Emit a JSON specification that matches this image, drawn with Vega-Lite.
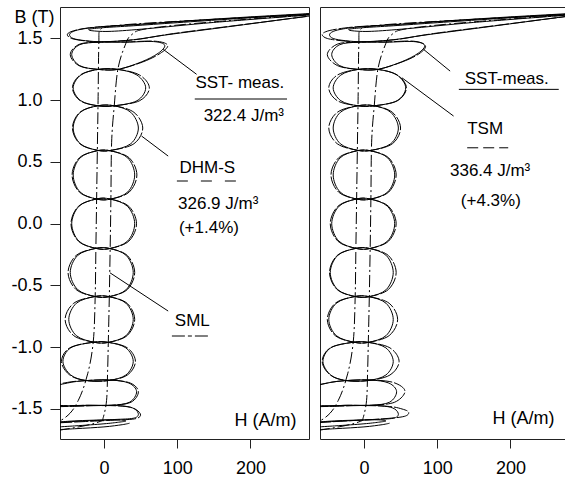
{
"$schema": "https://vega.github.io/schema/vega-lite/v6.json",
"background": "white",
"padding": {"left": 10, "top": 6, "right": 0, "bottom": 0},
"spacing": 9,
"config": {
 "font": "Liberation Sans",
 "view": {"stroke": "#222", "strokeWidth": 1},
 "axis": {"grid": false, "domain": false, "labelFontSize": 18, "labelColor": "black", "tickColor": "#222", "labelFont": "Liberation Sans", "titleFont": "Liberation Sans", "titleColor": "black"},
 "text": {"font": "Liberation Sans", "fontSize": 17, "color": "black"}
},
"datasets": {
 "mc": [
  {"c":"M1","h":9.5,"b":0.2},{"c":"M1","h":32.5,"b":0.257},{"c":"M1","h":42,"b":0.395},{"c":"M1","h":32.5,"b":0.533},{"c":"M1","h":9.5,"b":0.59},{"c":"M1","h":-10,"b":0.59},{"c":"M1","h":-32.6,"b":0.533},{"c":"M1","h":-42,"b":0.395},{"c":"M1","h":-32.6,"b":0.257},{"c":"M1","h":-10,"b":0.2},
  {"c":"M2","h":8.5,"b":-0.2},{"c":"M2","h":32.2,"b":-0.141},{"c":"M2","h":42,"b":0},{"c":"M2","h":32.2,"b":0.141},{"c":"M2","h":8.5,"b":0.2},{"c":"M2","h":-10.5,"b":0.2},{"c":"M2","h":-34.2,"b":0.141},{"c":"M2","h":-44,"b":0},{"c":"M2","h":-34.2,"b":-0.141},{"c":"M2","h":-10.5,"b":-0.2},
  {"c":"M3","h":7.5,"b":-0.59},{"c":"M3","h":30.5,"b":-0.533},{"c":"M3","h":40,"b":-0.395},{"c":"M3","h":30.5,"b":-0.257},{"c":"M3","h":7.5,"b":-0.2},{"c":"M3","h":-11.5,"b":-0.2},{"c":"M3","h":-35.9,"b":-0.257},{"c":"M3","h":-46,"b":-0.395},{"c":"M3","h":-35.9,"b":-0.533},{"c":"M3","h":-11.5,"b":-0.59},
  {"c":"M4","h":6.5,"b":-0.96},{"c":"M4","h":30.2,"b":-0.906},{"c":"M4","h":40,"b":-0.775},{"c":"M4","h":30.2,"b":-0.644},{"c":"M4","h":6.5,"b":-0.59},{"c":"M4","h":-13,"b":-0.59},{"c":"M4","h":-37.7,"b":-0.644},{"c":"M4","h":-48,"b":-0.775},{"c":"M4","h":-37.7,"b":-0.906},{"c":"M4","h":-13,"b":-0.96},
  {"c":"M5","h":5.5,"b":-1.27},{"c":"M5","h":29.9,"b":-1.225},{"c":"M5","h":40,"b":-1.115},{"c":"M5","h":29.9,"b":-1.005},{"c":"M5","h":5.5,"b":-0.96},{"c":"M5","h":-15,"b":-0.96},{"c":"M5","h":-45.3,"b":-1.005},{"c":"M5","h":-56,"b":-1.115},{"c":"M5","h":-45.3,"b":-1.225},{"c":"M5","h":-24,"b":-1.27},
  {"c":"M6","h":10,"b":-1.47},{"c":"M6","h":35,"b":-1.445},{"c":"M6","h":44.6,"b":-1.36},{"c":"M6","h":34,"b":-1.29},{"c":"M6","h":8,"b":-1.265},{"c":"M6","h":-24,"b":-1.27},{"c":"M6","h":-50,"b":-1.29},{"c":"M6","h":-75,"b":-1.34},{"c":"M6","h":-70,"b":-1.465},{"c":"M6","h":-20,"b":-1.47},
  {"c":"M7","h":19,"b":1.25},{"c":"M7","h":51,"b":1.31},{"c":"M7","h":74,"b":1.38},{"c":"M7","h":83,"b":1.445},{"c":"M7","h":68,"b":1.475},{"c":"M7","h":30,"b":1.47},{"c":"M7","h":-7,"b":1.47},{"c":"M7","h":-33,"b":1.45},{"c":"M7","h":-44,"b":1.37},{"c":"M7","h":-33,"b":1.28},{"c":"M7","h":-8,"b":1.25},
  {"c":"M8","h":14,"b":0.955},{"c":"M8","h":45.1,"b":0.996},{"c":"M8","h":57,"b":1.1},{"c":"M8","h":45.1,"b":1.204},{"c":"M8","h":19,"b":1.25},{"c":"M8","h":-7.5,"b":1.25},{"c":"M8","h":-31.5,"b":1.204},{"c":"M8","h":-42,"b":1.1},{"c":"M8","h":-31.5,"b":0.996},{"c":"M8","h":-8,"b":0.955},
  {"c":"M9","h":10.5,"b":0.595},{"c":"M9","h":36.7,"b":0.648},{"c":"M9","h":47,"b":0.775},{"c":"M9","h":36.7,"b":0.902},{"c":"M9","h":14,"b":0.955},{"c":"M9","h":-8.5,"b":0.955},{"c":"M9","h":-32.3,"b":0.902},{"c":"M9","h":-42,"b":0.775},{"c":"M9","h":-32.3,"b":0.648},{"c":"M9","h":-9,"b":0.595}
 ],
 "ma": [
  {"c":"A1","h":9.5,"b":0.2},{"c":"A1","h":34.6,"b":0.257},{"c":"A1","h":45,"b":0.395},{"c":"A1","h":34.6,"b":0.533},{"c":"A1","h":9.5,"b":0.59},{"c":"A1","h":-10,"b":0.59},{"c":"A1","h":-33.7,"b":0.533},{"c":"A1","h":-43.5,"b":0.395},{"c":"A1","h":-33.7,"b":0.257},{"c":"A1","h":-10,"b":0.2},
  {"c":"A2","h":8.5,"b":-0.2},{"c":"A2","h":34,"b":-0.141},{"c":"A2","h":44.5,"b":0},{"c":"A2","h":34,"b":0.141},{"c":"A2","h":8.5,"b":0.2},{"c":"A2","h":-10.5,"b":0.2},{"c":"A2","h":-34.9,"b":0.141},{"c":"A2","h":-45,"b":0},{"c":"A2","h":-34.9,"b":-0.141},{"c":"A2","h":-10.5,"b":-0.2},
  {"c":"A3","h":7.5,"b":-0.59},{"c":"A3","h":31.9,"b":-0.533},{"c":"A3","h":42,"b":-0.395},{"c":"A3","h":31.9,"b":-0.257},{"c":"A3","h":7.5,"b":-0.2},{"c":"A3","h":-11.5,"b":-0.2},{"c":"A3","h":-38,"b":-0.257},{"c":"A3","h":-49,"b":-0.395},{"c":"A3","h":-38,"b":-0.533},{"c":"A3","h":-11.5,"b":-0.59},
  {"c":"A4","h":6.5,"b":-0.96},{"c":"A4","h":31.6,"b":-0.906},{"c":"A4","h":42,"b":-0.775},{"c":"A4","h":31.6,"b":-0.644},{"c":"A4","h":6.5,"b":-0.59},{"c":"A4","h":-13,"b":-0.59},{"c":"A4","h":-41.3,"b":-0.644},{"c":"A4","h":-53,"b":-0.775},{"c":"A4","h":-41.3,"b":-0.906},{"c":"A4","h":-13,"b":-0.96},
  {"c":"A5","h":5.5,"b":-1.27},{"c":"A5","h":32,"b":-1.225},{"c":"A5","h":43,"b":-1.115},{"c":"A5","h":32,"b":-1.005},{"c":"A5","h":5.5,"b":-0.96},{"c":"A5","h":-15,"b":-0.96},{"c":"A5","h":-46.7,"b":-1.005},{"c":"A5","h":-58,"b":-1.115},{"c":"A5","h":-46.7,"b":-1.225},{"c":"A5","h":-24,"b":-1.27},
  {"c":"A6","h":10,"b":-1.47},{"c":"A6","h":37,"b":-1.445},{"c":"A6","h":47,"b":-1.36},{"c":"A6","h":36,"b":-1.29},{"c":"A6","h":8,"b":-1.265},{"c":"A6","h":-24,"b":-1.27},{"c":"A6","h":-50,"b":-1.285},{"c":"A6","h":-75,"b":-1.33},{"c":"A6","h":-70,"b":-1.46},{"c":"A6","h":-20,"b":-1.47},
  {"c":"A7","h":19,"b":1.25},{"c":"A7","h":53,"b":1.31},{"c":"A7","h":77,"b":1.38},{"c":"A7","h":87,"b":1.445},{"c":"A7","h":70,"b":1.478},{"c":"A7","h":30,"b":1.472},{"c":"A7","h":-7,"b":1.47},{"c":"A7","h":-34,"b":1.452},{"c":"A7","h":-46,"b":1.37},{"c":"A7","h":-34,"b":1.28},{"c":"A7","h":-8,"b":1.25},
  {"c":"A8","h":14,"b":0.955},{"c":"A8","h":48.7,"b":0.996},{"c":"A8","h":62,"b":1.1},{"c":"A8","h":48.7,"b":1.204},{"c":"A8","h":19,"b":1.25},{"c":"A8","h":-7.5,"b":1.25},{"c":"A8","h":-32.5,"b":1.204},{"c":"A8","h":-43,"b":1.1},{"c":"A8","h":-32.5,"b":0.996},{"c":"A8","h":-8,"b":0.955},
  {"c":"A9","h":10.5,"b":0.595},{"c":"A9","h":41,"b":0.648},{"c":"A9","h":53,"b":0.775},{"c":"A9","h":41,"b":0.902},{"c":"A9","h":14,"b":0.955},{"c":"A9","h":-8.5,"b":0.955},{"c":"A9","h":-33,"b":0.902},{"c":"A9","h":-43,"b":0.775},{"c":"A9","h":-33,"b":0.648},{"c":"A9","h":-9,"b":0.595}
 ],
 "mb": [
  {"c":"B1","h":9.5,"b":0.2},{"c":"B1","h":33.9,"b":0.257},{"c":"B1","h":44,"b":0.395},{"c":"B1","h":33.9,"b":0.533},{"c":"B1","h":9.5,"b":0.59},{"c":"B1","h":-10,"b":0.59},{"c":"B1","h":-34.7,"b":0.533},{"c":"B1","h":-45,"b":0.395},{"c":"B1","h":-34.7,"b":0.257},{"c":"B1","h":-10,"b":0.2},
  {"c":"B2","h":8.5,"b":-0.2},{"c":"B2","h":33.6,"b":-0.141},{"c":"B2","h":44,"b":0},{"c":"B2","h":33.6,"b":0.141},{"c":"B2","h":8.5,"b":0.2},{"c":"B2","h":-10.5,"b":0.2},{"c":"B2","h":-35.6,"b":0.141},{"c":"B2","h":-46,"b":0},{"c":"B2","h":-35.6,"b":-0.141},{"c":"B2","h":-10.5,"b":-0.2},
  {"c":"B3","h":7.5,"b":-0.59},{"c":"B3","h":33.3,"b":-0.533},{"c":"B3","h":44,"b":-0.395},{"c":"B3","h":33.3,"b":-0.257},{"c":"B3","h":7.5,"b":-0.2},{"c":"B3","h":-11.5,"b":-0.2},{"c":"B3","h":-36.6,"b":-0.257},{"c":"B3","h":-47,"b":-0.395},{"c":"B3","h":-36.6,"b":-0.533},{"c":"B3","h":-11.5,"b":-0.59},
  {"c":"B4","h":6.5,"b":-0.96},{"c":"B4","h":34.4,"b":-0.906},{"c":"B4","h":46,"b":-0.775},{"c":"B4","h":34.4,"b":-0.644},{"c":"B4","h":6.5,"b":-0.59},{"c":"B4","h":-13,"b":-0.59},{"c":"B4","h":-39.2,"b":-0.644},{"c":"B4","h":-50,"b":-0.775},{"c":"B4","h":-39.2,"b":-0.906},{"c":"B4","h":-13,"b":-0.96},
  {"c":"B5","h":5.5,"b":-1.27},{"c":"B5","h":35.5,"b":-1.225},{"c":"B5","h":48,"b":-1.115},{"c":"B5","h":35.5,"b":-1.005},{"c":"B5","h":5.5,"b":-0.96},{"c":"B5","h":-15,"b":-0.96},{"c":"B5","h":-46,"b":-1.005},{"c":"B5","h":-57,"b":-1.115},{"c":"B5","h":-46,"b":-1.225},{"c":"B5","h":-24,"b":-1.27},
  {"c":"B6","h":10,"b":-1.47},{"c":"B6","h":42,"b":-1.445},{"c":"B6","h":56,"b":-1.355},{"c":"B6","h":40,"b":-1.285},{"c":"B6","h":8,"b":-1.265},{"c":"B6","h":-24,"b":-1.27},{"c":"B6","h":-50,"b":-1.29},{"c":"B6","h":-75,"b":-1.34},{"c":"B6","h":-70,"b":-1.465},{"c":"B6","h":-20,"b":-1.47},
  {"c":"B7","h":19,"b":1.25},{"c":"B7","h":52,"b":1.31},{"c":"B7","h":75,"b":1.375},{"c":"B7","h":84,"b":1.44},{"c":"B7","h":68,"b":1.478},{"c":"B7","h":30,"b":1.472},{"c":"B7","h":-7,"b":1.47},{"c":"B7","h":-36,"b":1.455},{"c":"B7","h":-50,"b":1.37},{"c":"B7","h":-36,"b":1.28},{"c":"B7","h":-8,"b":1.25},
  {"c":"B8","h":14,"b":0.955},{"c":"B8","h":45.8,"b":0.996},{"c":"B8","h":58,"b":1.1},{"c":"B8","h":45.8,"b":1.204},{"c":"B8","h":19,"b":1.25},{"c":"B8","h":-7.5,"b":1.25},{"c":"B8","h":-36.3,"b":1.204},{"c":"B8","h":-48,"b":1.1},{"c":"B8","h":-36.3,"b":0.996},{"c":"B8","h":-8,"b":0.955},
  {"c":"B9","h":10.5,"b":0.595},{"c":"B9","h":38.9,"b":0.648},{"c":"B9","h":50,"b":0.775},{"c":"B9","h":38.9,"b":0.902},{"c":"B9","h":14,"b":0.955},{"c":"B9","h":-8.5,"b":0.955},{"c":"B9","h":-36.5,"b":0.902},{"c":"B9","h":-48,"b":0.775},{"c":"B9","h":-36.5,"b":0.648},{"c":"B9","h":-9,"b":0.595}
 ],
 "mo": [
  {"c":"T1","h":290,"b":1.705},{"c":"T1","h":200,"b":1.675},{"c":"T1","h":120,"b":1.645},{"c":"T1","h":50,"b":1.615},{"c":"T1","h":0,"b":1.597},{"c":"T1","h":-28,"b":1.578},{"c":"T1","h":-42,"b":1.557},{"c":"T1","h":-47,"b":1.53},{"c":"T1","h":-42,"b":1.5},{"c":"T1","h":-25,"b":1.482},{"c":"T1","h":0,"b":1.474},{"c":"T1","h":40,"b":1.49},{"c":"T1","h":86,"b":1.53},{"c":"T1","h":176,"b":1.6},{"c":"T1","h":290,"b":1.69},
  {"c":"T2","h":290,"b":1.7},{"c":"T2","h":180,"b":1.66},{"c":"T2","h":100,"b":1.628},{"c":"T2","h":40,"b":1.603},{"c":"T2","h":0,"b":1.588},{"c":"T2","h":-20,"b":1.575},{"c":"T2","h":-15,"b":1.562},{"c":"T2","h":10,"b":1.558},{"c":"T2","h":60,"b":1.58},{"c":"T2","h":150,"b":1.63},{"c":"T2","h":290,"b":1.695},
  {"c":"X1","h":-90,"b":-1.48},{"c":"X1","h":-40,"b":-1.475},{"c":"X1","h":0,"b":-1.47},{"c":"X1","h":28,"b":-1.477},{"c":"X1","h":42,"b":-1.5},{"c":"X1","h":47,"b":-1.545},{"c":"X1","h":40,"b":-1.575},{"c":"X1","h":15,"b":-1.585},{"c":"X1","h":-20,"b":-1.595},{"c":"X1","h":-90,"b":-1.615},
  {"c":"X2","h":-90,"b":-1.655},{"c":"X2","h":-40,"b":-1.637},{"c":"X2","h":0,"b":-1.62},{"c":"X2","h":20,"b":-1.607},{"c":"X2","h":30,"b":-1.597},{"c":"X2","h":20,"b":-1.588},{"c":"X2","h":-10,"b":-1.59},{"c":"X2","h":-50,"b":-1.6},{"c":"X2","h":-90,"b":-1.625},
  {"c":"X3","h":-90,"b":-1.675},{"c":"X3","h":-40,"b":-1.66},{"c":"X3","h":0,"b":-1.645},{"c":"X3","h":25,"b":-1.627},{"c":"X3","h":35,"b":-1.615}
 ],
 "ao": [
  {"c":"TA","h":290,"b":1.7},{"c":"TA","h":190,"b":1.668},{"c":"TA","h":110,"b":1.64},{"c":"TA","h":40,"b":1.612},{"c":"TA","h":-5,"b":1.595},{"c":"TA","h":-30,"b":1.578},{"c":"TA","h":-45,"b":1.555},{"c":"TA","h":-50,"b":1.53},{"c":"TA","h":-44,"b":1.5},{"c":"TA","h":-25,"b":1.48},{"c":"TA","h":0,"b":1.472},{"c":"TA","h":45,"b":1.492},{"c":"TA","h":95,"b":1.54},{"c":"TA","h":180,"b":1.605},{"c":"TA","h":290,"b":1.688},
  {"c":"XA","h":-90,"b":-1.485},{"c":"XA","h":-40,"b":-1.478},{"c":"XA","h":0,"b":-1.472},{"c":"XA","h":30,"b":-1.48},{"c":"XA","h":44,"b":-1.505},{"c":"XA","h":50,"b":-1.55},{"c":"XA","h":42,"b":-1.58},{"c":"XA","h":15,"b":-1.59},{"c":"XA","h":-20,"b":-1.6},{"c":"XA","h":-90,"b":-1.62}
 ],
 "bo": [
  {"c":"TB","h":290,"b":1.7},{"c":"TB","h":190,"b":1.668},{"c":"TB","h":110,"b":1.64},{"c":"TB","h":40,"b":1.612},{"c":"TB","h":-10,"b":1.595},{"c":"TB","h":-38,"b":1.575},{"c":"TB","h":-52,"b":1.555},{"c":"TB","h":-57,"b":1.53},{"c":"TB","h":-50,"b":1.5},{"c":"TB","h":-28,"b":1.48},{"c":"TB","h":0,"b":1.472},{"c":"TB","h":45,"b":1.492},{"c":"TB","h":95,"b":1.54},{"c":"TB","h":180,"b":1.605},{"c":"TB","h":290,"b":1.688},
  {"c":"XB","h":-90,"b":-1.485},{"c":"XB","h":-40,"b":-1.478},{"c":"XB","h":0,"b":-1.472},{"c":"XB","h":35,"b":-1.48},{"c":"XB","h":52,"b":-1.5},{"c":"XB","h":61,"b":-1.525},{"c":"XB","h":55,"b":-1.56},{"c":"XB","h":25,"b":-1.58},{"c":"XB","h":-20,"b":-1.595},{"c":"XB","h":-90,"b":-1.62}
 ],
 "sml": [
  {"c":"S1","h":290,"b":1.7},{"c":"S1","h":150,"b":1.655},{"c":"S1","h":60,"b":1.625},{"c":"S1","h":10,"b":1.6},{"c":"S1","h":-5,"b":1.57},{"c":"S1","h":-7,"b":1.45},{"c":"S1","h":-8,"b":1.0},{"c":"S1","h":-9,"b":0.6},{"c":"S1","h":-10,"b":0.2},{"c":"S1","h":-11,"b":-0.2},{"c":"S1","h":-12,"b":-0.6},{"c":"S1","h":-14.5,"b":-0.95},{"c":"S1","h":-22,"b":-1.21},{"c":"S1","h":-35,"b":-1.43},{"c":"S1","h":-53,"b":-1.57},{"c":"S1","h":-90,"b":-1.68},
  {"c":"S2","h":-90,"b":-1.7},{"c":"S2","h":-30,"b":-1.64},{"c":"S2","h":-5,"b":-1.6},{"c":"S2","h":-1,"b":-1.57},{"c":"S2","h":3.6,"b":-1.43},{"c":"S2","h":5,"b":-1.2},{"c":"S2","h":6,"b":-0.95},{"c":"S2","h":7.3,"b":-0.6},{"c":"S2","h":8.5,"b":-0.2},{"c":"S2","h":9.5,"b":0.2},{"c":"S2","h":10.5,"b":0.66},{"c":"S2","h":14,"b":0.95},{"c":"S2","h":19,"b":1.25},{"c":"S2","h":28.6,"b":1.44},{"c":"S2","h":37.7,"b":1.53},{"c":"S2","h":60,"b":1.58},{"c":"S2","h":150,"b":1.635},{"c":"S2","h":290,"b":1.695}
 ],
 "tx": [
  {"p":"a","t":"SST- meas.","h":185.5,"b":1.139},
  {"p":"a","t":"322.4 J/m³","h":191,"b":0.872},
  {"p":"a","t":"DHM-S","h":141.2,"b":0.453},
  {"p":"a","t":"326.9 J/m³","h":156,"b":0.157},
  {"p":"a","t":"(+1.4%)","h":143.4,"b":-0.032},
  {"p":"a","t":"SML","h":120.7,"b":-0.788},
  {"p":"a","t":"H (A/m)","h":220.7,"b":-1.598},
  {"p":"b","t":"SST-meas.","h":195,"b":1.169},
  {"p":"b","t":"TSM","h":165.5,"b":0.764},
  {"p":"b","t":"336.4 J/m³","h":172.3,"b":0.427},
  {"p":"b","t":"(+4.3%)","h":173.3,"b":0.184},
  {"p":"b","t":"H (A/m)","h":217.9,"b":-1.584}
 ],
 "ld": [
  {"p":"a","h":81,"b":1.412,"h2":126.5,"b2":1.21},
  {"p":"a","h":51.4,"b":0.71,"h2":87.7,"b2":0.548},
  {"p":"a","h":8.2,"b":-0.397,"h2":87.7,"b2":-0.707},
  {"p":"b","h":81.4,"b":1.412,"h2":117.7,"b2":1.236},
  {"p":"b","h":51.8,"b":1.182,"h2":122.4,"b2":0.872}
 ],
 "ul": [
  {"p":"a","k":"s","h":124,"h2":250,"b":1.01},
  {"p":"a","k":"d","h":99.6,"h2":185.5,"b":0.346},
  {"p":"a","k":"dd","h":92.8,"h2":146,"b":-0.909},
  {"p":"b","k":"s","h":129.6,"h2":266,"b":1.088},
  {"p":"b","k":"d","h":141,"h2":197,"b":0.615}
 ]
},
"hconcat": [
 {
  "width": 249, "height": 432,
  "layer": [
   {"data": {"name": "mc"}, "mark": {"type": "line", "interpolate": "cardinal-closed", "clip": true, "color": "black", "strokeWidth": 1},
    "encoding": {
     "x": {"field": "h", "type": "quantitative", "scale": {"domain": [-60, 280], "nice": false, "zero": false}, "axis": {"values": [0, 100, 200], "title": null, "tickSize": 9, "labelPadding": 11}},
     "y": {"field": "b", "type": "quantitative", "scale": {"domain": [-1.743, 1.755], "nice": false, "zero": false}, "axis": {"values": [-1.5, -1, -0.5, 0, 0.5, 1, 1.5], "labelExpr": "(datum.value < 0 ? '-' : '') + format(abs(datum.value), '.1f')", "title": "B (T)", "titleAngle": 0, "titleX": -26, "titleY": 10, "titleAlign": "center", "titleBaseline": "middle", "titleFontSize": 18, "titleFontWeight": "normal", "tickSize": 10, "labelPadding": 8}},
     "detail": {"field": "c"}, "order": {"value": null}}},
   {"data": {"name": "ma"}, "mark": {"type": "line", "interpolate": "cardinal-closed", "clip": true, "color": "black", "strokeWidth": 1, "strokeDash": [14, 2]},
    "encoding": {"x": {"field": "h", "type": "quantitative", "scale": {"domain": [-60, 280], "nice": false, "zero": false}}, "y": {"field": "b", "type": "quantitative", "scale": {"domain": [-1.743, 1.755], "nice": false, "zero": false}}, "detail": {"field": "c"}, "order": {"value": null}}},
   {"data": {"name": "mo"}, "mark": {"type": "line", "interpolate": "cardinal", "clip": true, "color": "black", "strokeWidth": 1},
    "encoding": {"x": {"field": "h", "type": "quantitative", "scale": {"domain": [-60, 280], "nice": false, "zero": false}}, "y": {"field": "b", "type": "quantitative", "scale": {"domain": [-1.743, 1.755], "nice": false, "zero": false}}, "detail": {"field": "c"}, "order": {"value": null}}},
   {"data": {"name": "ao"}, "mark": {"type": "line", "interpolate": "cardinal", "clip": true, "color": "black", "strokeWidth": 1, "strokeDash": [14, 2]},
    "encoding": {"x": {"field": "h", "type": "quantitative", "scale": {"domain": [-60, 280], "nice": false, "zero": false}}, "y": {"field": "b", "type": "quantitative", "scale": {"domain": [-1.743, 1.755], "nice": false, "zero": false}}, "detail": {"field": "c"}, "order": {"value": null}}},
   {"data": {"name": "sml"}, "mark": {"type": "line", "interpolate": "cardinal", "clip": true, "color": "black", "strokeWidth": 1, "strokeDash": [12, 3, 2, 3]},
    "encoding": {"x": {"field": "h", "type": "quantitative", "scale": {"domain": [-60, 280], "nice": false, "zero": false}}, "y": {"field": "b", "type": "quantitative", "scale": {"domain": [-1.743, 1.755], "nice": false, "zero": false}}, "detail": {"field": "c"}, "order": {"value": null}}},
   {"data": {"name": "ld"}, "transform": [{"filter": "datum.p == 'a'"}], "mark": {"type": "rule", "color": "black", "strokeWidth": 1},
    "encoding": {"x": {"field": "h", "type": "quantitative", "scale": {"domain": [-60, 280], "nice": false, "zero": false}}, "y": {"field": "b", "type": "quantitative", "scale": {"domain": [-1.743, 1.755], "nice": false, "zero": false}}, "x2": {"field": "h2"}, "y2": {"field": "b2"}}},
   {"data": {"name": "ul"}, "transform": [{"filter": "datum.p == 'a' && datum.k == 's'"}], "mark": {"type": "rule", "color": "black", "strokeWidth": 1},
    "encoding": {"x": {"field": "h", "type": "quantitative", "scale": {"domain": [-60, 280], "nice": false, "zero": false}}, "y": {"field": "b", "type": "quantitative", "scale": {"domain": [-1.743, 1.755], "nice": false, "zero": false}}, "x2": {"field": "h2"}}},
   {"data": {"name": "ul"}, "transform": [{"filter": "datum.p == 'a' && datum.k == 'd'"}], "mark": {"type": "rule", "color": "black", "strokeWidth": 1, "strokeDash": [11, 13]},
    "encoding": {"x": {"field": "h", "type": "quantitative", "scale": {"domain": [-60, 280], "nice": false, "zero": false}}, "y": {"field": "b", "type": "quantitative", "scale": {"domain": [-1.743, 1.755], "nice": false, "zero": false}}, "x2": {"field": "h2"}}},
   {"data": {"name": "ul"}, "transform": [{"filter": "datum.p == 'a' && datum.k == 'dd'"}], "mark": {"type": "rule", "color": "black", "strokeWidth": 1, "strokeDash": [13, 3, 4, 3]},
    "encoding": {"x": {"field": "h", "type": "quantitative", "scale": {"domain": [-60, 280], "nice": false, "zero": false}}, "y": {"field": "b", "type": "quantitative", "scale": {"domain": [-1.743, 1.755], "nice": false, "zero": false}}, "x2": {"field": "h2"}}},
   {"data": {"name": "tx"}, "transform": [{"filter": "datum.p == 'a' && datum.t != 'H (A/m)'"}], "mark": {"type": "text", "align": "center", "baseline": "middle", "fontSize": 17},
    "encoding": {"x": {"field": "h", "type": "quantitative", "scale": {"domain": [-60, 280], "nice": false, "zero": false}}, "y": {"field": "b", "type": "quantitative", "scale": {"domain": [-1.743, 1.755], "nice": false, "zero": false}}, "text": {"field": "t"}}},
   {"data": {"name": "tx"}, "transform": [{"filter": "datum.p == 'a' && datum.t == 'H (A/m)'"}], "mark": {"type": "text", "align": "center", "baseline": "middle", "fontSize": 18},
    "encoding": {"x": {"field": "h", "type": "quantitative", "scale": {"domain": [-60, 280], "nice": false, "zero": false}}, "y": {"field": "b", "type": "quantitative", "scale": {"domain": [-1.743, 1.755], "nice": false, "zero": false}}, "text": {"field": "t"}}}
  ]
 },
 {
  "width": 249, "height": 432,
  "layer": [
   {"data": {"name": "mc"}, "mark": {"type": "line", "interpolate": "cardinal-closed", "clip": true, "color": "black", "strokeWidth": 1},
    "encoding": {
     "x": {"field": "h", "type": "quantitative", "scale": {"domain": [-60, 280], "nice": false, "zero": false}, "axis": {"values": [0, 100, 200], "title": null, "tickSize": 9, "labelPadding": 11}},
     "y": {"field": "b", "type": "quantitative", "scale": {"domain": [-1.743, 1.755], "nice": false, "zero": false}, "axis": null},
     "detail": {"field": "c"}, "order": {"value": null}}},
   {"data": {"name": "mb"}, "mark": {"type": "line", "interpolate": "cardinal-closed", "clip": true, "color": "black", "strokeWidth": 1, "strokeDash": [14, 2]},
    "encoding": {"x": {"field": "h", "type": "quantitative", "scale": {"domain": [-60, 280], "nice": false, "zero": false}}, "y": {"field": "b", "type": "quantitative", "scale": {"domain": [-1.743, 1.755], "nice": false, "zero": false}}, "detail": {"field": "c"}, "order": {"value": null}}},
   {"data": {"name": "mo"}, "mark": {"type": "line", "interpolate": "cardinal", "clip": true, "color": "black", "strokeWidth": 1},
    "encoding": {"x": {"field": "h", "type": "quantitative", "scale": {"domain": [-60, 280], "nice": false, "zero": false}}, "y": {"field": "b", "type": "quantitative", "scale": {"domain": [-1.743, 1.755], "nice": false, "zero": false}}, "detail": {"field": "c"}, "order": {"value": null}}},
   {"data": {"name": "bo"}, "mark": {"type": "line", "interpolate": "cardinal", "clip": true, "color": "black", "strokeWidth": 1, "strokeDash": [14, 2]},
    "encoding": {"x": {"field": "h", "type": "quantitative", "scale": {"domain": [-60, 280], "nice": false, "zero": false}}, "y": {"field": "b", "type": "quantitative", "scale": {"domain": [-1.743, 1.755], "nice": false, "zero": false}}, "detail": {"field": "c"}, "order": {"value": null}}},
   {"data": {"name": "sml"}, "mark": {"type": "line", "interpolate": "cardinal", "clip": true, "color": "black", "strokeWidth": 1, "strokeDash": [12, 3, 2, 3]},
    "encoding": {"x": {"field": "h", "type": "quantitative", "scale": {"domain": [-60, 280], "nice": false, "zero": false}}, "y": {"field": "b", "type": "quantitative", "scale": {"domain": [-1.743, 1.755], "nice": false, "zero": false}}, "detail": {"field": "c"}, "order": {"value": null}}},
   {"data": {"name": "ld"}, "transform": [{"filter": "datum.p == 'b'"}], "mark": {"type": "rule", "color": "black", "strokeWidth": 1},
    "encoding": {"x": {"field": "h", "type": "quantitative", "scale": {"domain": [-60, 280], "nice": false, "zero": false}}, "y": {"field": "b", "type": "quantitative", "scale": {"domain": [-1.743, 1.755], "nice": false, "zero": false}}, "x2": {"field": "h2"}, "y2": {"field": "b2"}}},
   {"data": {"name": "ul"}, "transform": [{"filter": "datum.p == 'b' && datum.k == 's'"}], "mark": {"type": "rule", "color": "black", "strokeWidth": 1},
    "encoding": {"x": {"field": "h", "type": "quantitative", "scale": {"domain": [-60, 280], "nice": false, "zero": false}}, "y": {"field": "b", "type": "quantitative", "scale": {"domain": [-1.743, 1.755], "nice": false, "zero": false}}, "x2": {"field": "h2"}}},
   {"data": {"name": "ul"}, "transform": [{"filter": "datum.p == 'b' && datum.k == 'd'"}], "mark": {"type": "rule", "color": "black", "strokeWidth": 1, "strokeDash": [11, 5]},
    "encoding": {"x": {"field": "h", "type": "quantitative", "scale": {"domain": [-60, 280], "nice": false, "zero": false}}, "y": {"field": "b", "type": "quantitative", "scale": {"domain": [-1.743, 1.755], "nice": false, "zero": false}}, "x2": {"field": "h2"}}},
   {"data": {"name": "tx"}, "transform": [{"filter": "datum.p == 'b' && datum.t != 'H (A/m)'"}], "mark": {"type": "text", "align": "center", "baseline": "middle", "fontSize": 17},
    "encoding": {"x": {"field": "h", "type": "quantitative", "scale": {"domain": [-60, 280], "nice": false, "zero": false}}, "y": {"field": "b", "type": "quantitative", "scale": {"domain": [-1.743, 1.755], "nice": false, "zero": false}}, "text": {"field": "t"}}},
   {"data": {"name": "tx"}, "transform": [{"filter": "datum.p == 'b' && datum.t == 'H (A/m)'"}], "mark": {"type": "text", "align": "center", "baseline": "middle", "fontSize": 18},
    "encoding": {"x": {"field": "h", "type": "quantitative", "scale": {"domain": [-60, 280], "nice": false, "zero": false}}, "y": {"field": "b", "type": "quantitative", "scale": {"domain": [-1.743, 1.755], "nice": false, "zero": false}}, "text": {"field": "t"}}}
  ]
 }
]
}
